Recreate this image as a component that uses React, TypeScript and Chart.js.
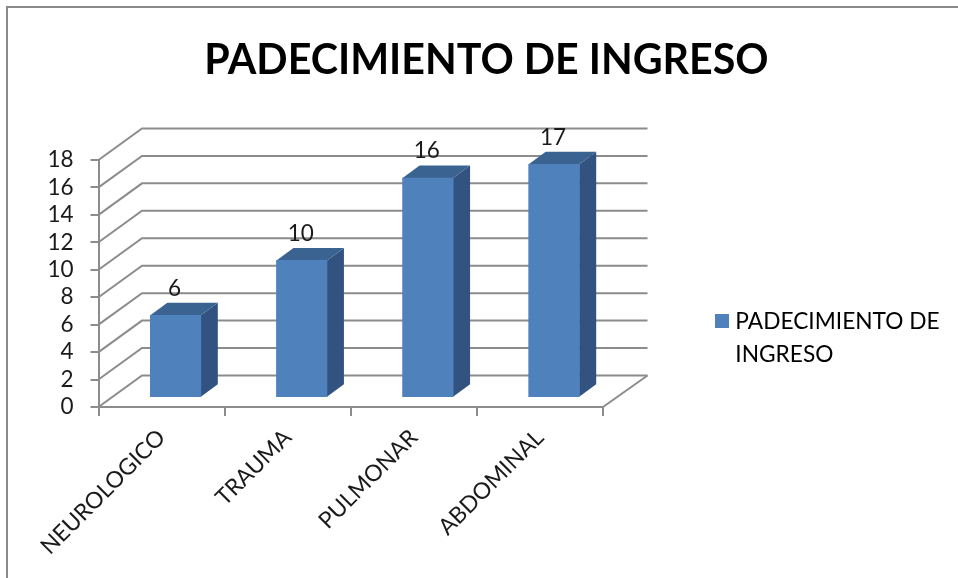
import React, { useEffect, useRef } from "react";
import { Chart, registerables } from "chart.js";

Chart.register(...registerables);

const categories = ["NEUROLOGICO", "TRAUMA", "PULMONAR", "ABDOMINAL"];
const seriesName = "PADECIMIENTO DE INGRESO";
const legendLines = ["PADECIMIENTO DE", "INGRESO"];
const values = [6, 10, 16, 17];

const FONT = "Lato, 'Open Sans', sans-serif";
const BLUE = "#4F81BD";
const SIDE = "#325380";
const TOP = "#3B6391";
const GRID = "#8C8C8C";
const TEXT = "#1A1A1A";

// projection of the 3D box
const WALL_DX = 43.5;
const WALL_DY = -31.5;
const BAR_SHIFT_X = 14;
const BAR_SHIFT_Y = -9.3;
const BAR_DX = 17;
const BAR_DY = -12.5;

const box3d = {
  id: "box3d",
  afterLayout(chart: any) {
    const lg = chart.legend;
    lg.left = 710;
    lg.right = 958;
    lg.top = 300;
    lg.bottom = 380;
    const t = chart.titleBlock;
    t.left = 0;
    t.right = 973;
  },
  beforeDraw(chart: any) {
    const { ctx, width, height } = chart;
    ctx.save();
    ctx.fillStyle = "#FFFFFF";
    ctx.fillRect(0, 0, width, height);
    ctx.strokeStyle = "#8A8A8A";
    ctx.lineWidth = 2;
    ctx.beginPath();
    ctx.moveTo(7, height);
    ctx.lineTo(7, 7);
    ctx.lineTo(width, 7);
    ctx.stroke();
    ctx.restore();
  },
  beforeDatasetsDraw(chart: any) {
    const { ctx, chartArea, scales } = chart;
    ctx.save();
    ctx.strokeStyle = GRID;
    ctx.lineWidth = 2;
    for (const tick of scales.y.ticks) {
      const y = scales.y.getPixelForValue(tick.value);
      ctx.beginPath();
      ctx.moveTo(chartArea.left, y);
      ctx.lineTo(chartArea.left + WALL_DX, y + WALL_DY);
      ctx.lineTo(chartArea.right + WALL_DX + 1, y + WALL_DY);
      ctx.stroke();
    }
    ctx.beginPath();
    ctx.moveTo(chartArea.right, chartArea.bottom);
    ctx.lineTo(chartArea.right + WALL_DX + 1, chartArea.bottom + WALL_DY);
    ctx.stroke();
    ctx.restore();
  },
  beforeDatasetDraw(chart: any, args: any) {
    const { ctx } = chart;
    ctx.save();
    ctx.translate(BAR_SHIFT_X, BAR_SHIFT_Y);
    for (const bar of args.meta.data) {
      const { x, y, base, width } = bar.getProps(["x", "y", "base", "width"], true);
      const l = x - width / 2;
      const r = x + width / 2;
      ctx.fillStyle = SIDE;
      ctx.beginPath();
      ctx.moveTo(r, y);
      ctx.lineTo(r + BAR_DX, y + BAR_DY);
      ctx.lineTo(r + BAR_DX, base + BAR_DY);
      ctx.lineTo(r, base);
      ctx.closePath();
      ctx.fill();
      ctx.fillStyle = TOP;
      ctx.beginPath();
      ctx.moveTo(l, y);
      ctx.lineTo(l + BAR_DX, y + BAR_DY);
      ctx.lineTo(r + BAR_DX, y + BAR_DY);
      ctx.lineTo(r, y);
      ctx.closePath();
      ctx.fill();
    }
  },
  afterDatasetDraw(chart: any) {
    chart.ctx.restore();
  },
  afterDatasetsDraw(chart: any) {
    const { ctx } = chart;
    const meta = chart.getDatasetMeta(0);
    ctx.save();
    ctx.font = `22.5px ${FONT}`;
    ctx.fillStyle = TEXT;
    ctx.textAlign = "center";
    ctx.textBaseline = "middle";
    meta.data.forEach((bar: any, i: number) => {
      ctx.fillText(String(values[i]), bar.x + BAR_SHIFT_X - 1, bar.y + BAR_SHIFT_Y - 27);
    });
    ctx.restore();
  },
};

export default function App() {
  const ref = useRef<HTMLCanvasElement | null>(null);

  useEffect(() => {
    if (!ref.current) return;
    const swatch = document.createElement("canvas");
    swatch.width = 14;
    swatch.height = 14;
    const sctx = swatch.getContext("2d")!;
    sctx.fillStyle = BLUE;
    sctx.fillRect(0, 0, 14, 14);

    const chart = new Chart(ref.current, {
      type: "bar",
      data: {
        labels: categories,
        datasets: [
          {
            label: seriesName,
            data: values,
            backgroundColor: BLUE,
            borderWidth: 0,
            barThickness: 50.5,
            clip: false,
          } as any,
        ],
      },
      options: {
        responsive: false,
        animation: false,
        layout: { padding: { left: 0, top: 0, right: 355, bottom: 0 } },
        plugins: {
          title: {
            display: true,
            text: seriesName,
            color: "#000000",
            font: { family: FONT, size: 41.2, weight: "bold", lineHeight: 1.2 },
            padding: { top: 36, bottom: 74.5 },
          },
          legend: {
            display: true,
            position: "chartArea",
            align: "start",
            labels: {
              font: { family: FONT, size: 22.7, lineHeight: 33 / 22.7 },
              color: TEXT,
              padding: 10,
              usePointStyle: true,
              boxWidth: 4,
              boxHeight: 14,
              generateLabels: () => [
                {
                  text: legendLines,
                  fillStyle: BLUE,
                  strokeStyle: BLUE,
                  lineWidth: 0,
                  pointStyle: swatch,
                  hidden: false,
                  datasetIndex: 0,
                } as any,
              ],
            },
          } as any,
          tooltip: { enabled: false },
        },
        scales: {
          x: {
            grid: {
              drawOnChartArea: false,
              drawTicks: true,
              tickLength: 9,
              color: GRID,
              lineWidth: 2,
            },
            border: { color: GRID, width: 2 },
            ticks: {
              autoSkip: false,
              minRotation: 45,
              maxRotation: 45,
              color: TEXT,
              padding: 8,
              font: { family: FONT, size: 22.8 },
            },
            afterFit: (s: any) => {
              s.height = 171;
            },
          },
          y: {
            min: 0,
            max: 18,
            grid: {
              drawOnChartArea: false,
              drawTicks: true,
              tickLength: 8,
              color: GRID,
              lineWidth: 2,
            },
            border: { color: GRID, width: 2 },
            ticks: {
              stepSize: 2,
              autoSkip: false,
              color: TEXT,
              padding: 17,
              font: { family: FONT, size: 22.5 },
            },
            afterFit: (s: any) => {
              s.width = 98.5;
            },
          },
        },
      },
      plugins: [box3d],
    } as any);
    return () => chart.destroy();
  }, []);

  return (
    <div style={{ position: "fixed", left: 0, top: 0, width: 958, height: 578, background: "#fff" }}>
      <canvas ref={ref} width={958} height={578} style={{ display: "block" }} />
    </div>
  );
}
